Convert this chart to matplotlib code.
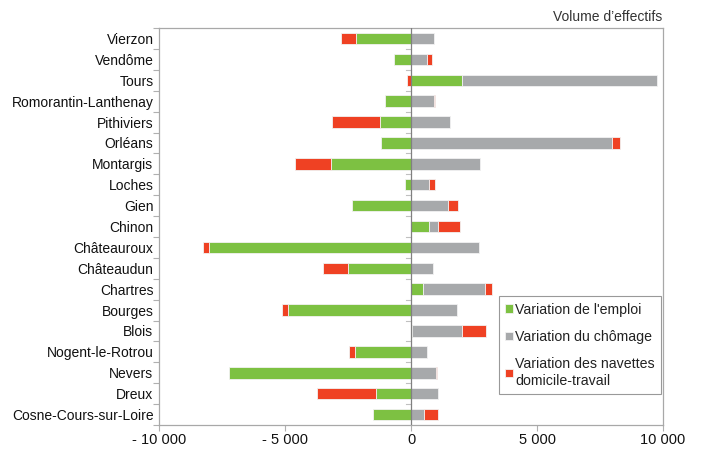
import numpy as np
import matplotlib
matplotlib.use("Agg")
import matplotlib.pyplot as plt
from matplotlib.ticker import FuncFormatter

plt.rcParams['font.family'] = ['Liberation Sans', 'DejaVu Sans']

categories = ["Vierzon", "Vendôme", "Tours", "Romorantin-Lanthenay", "Pithiviers",
              "Orléans", "Montargis", "Loches", "Gien", "Chinon", "Châteauroux",
              "Châteaudun", "Chartres", "Bourges", "Blois", "Nogent-le-Rotrou",
              "Nevers", "Dreux", "Cosne-Cours-sur-Loire"]

emploi = [-2200, -670, 2010, -1030, -1240, -1200, -3170, -240, -2340, 730, -8000,
          -2500, 490, -4880, 40, -2230, -7210, -1370, -1510]
chomage = [900, 650, 7770, 900, 1560, 7960, 2730, 700, 1460, 340, 2690,
           860, 2440, 1830, 1970, 630, 980, 1060, 520]
navettes = [-560, 170, -140, 70, -1900, 350, -1440, 240, 420, 890, -270,
            -990, 290, -250, 960, -220, 40, -2360, 560]

series = [
    ("Variation de l'emploi", emploi, "#7dc142"),
    ("Variation du chômage", chomage, "#a7a9ab"),
    ("Variation des navettes\ndomicile-travail", navettes, "#ef4123"),
]

fig = plt.figure(figsize=(7.02, 4.5), dpi=100)
ax = fig.add_axes([0.2265, 0.0556, 0.718, 0.882])

y = np.arange(len(categories))
pos_left = np.zeros(len(categories))
neg_left = np.zeros(len(categories))
handles = []
for label, vals, color in series:
    v = np.array(vals, dtype=float)
    left = np.where(v >= 0, pos_left, neg_left)
    h = ax.barh(y, v, left=left, height=0.55, color=color, edgecolor="#f2f2f2",
                linewidth=0.6, label=label, zorder=2)
    handles.append(h)
    pos_left = pos_left + np.where(v >= 0, v, 0)
    neg_left = neg_left + np.where(v < 0, v, 0)

ax.set_ylim(len(categories) - 0.5, -0.5)
ax.set_xlim(-10000, 10000)
ax.set_yticks(y)
ax.set_yticklabels(categories, fontsize=10, color="#111111")
ax.set_yticks(np.arange(-0.5, len(categories), 1.0), minor=True)
ax.tick_params(axis="y", which="major", length=0, pad=4)
ax.tick_params(axis="y", which="minor", length=4, color="#b0b0b0", width=0.8)

ax.set_xticks([-10000, -5000, 0, 5000, 10000])
def fmt(x, pos):
    s = "{:,.0f}".format(abs(x)).replace(",", " ")
    return ("- " + s) if x < 0 else s
ax.xaxis.set_major_formatter(FuncFormatter(fmt))
ax.tick_params(axis="x", length=4, color="#b0b0b0", width=0.8, labelsize=10.5,
               labelcolor="#111111", pad=2)

for s in ax.spines.values():
    s.set_color("#a8a8a8")
    s.set_linewidth(0.9)

ax.axvline(0, color="#808080", linewidth=0.9, zorder=3)
# small ticks along the zero axis at category boundaries
for b in np.arange(0.5, len(categories) - 1, 1.0):
    ax.plot([-200, 0], [b, b], color="#c0c0c0", linewidth=0.8, zorder=1)

leg = ax.legend(handles=handles, loc="lower right", bbox_to_anchor=(0.996, 0.078),
                fontsize=10.2, frameon=True, fancybox=False, handlelength=0.55,
                handleheight=0.55, handletextpad=0.15, borderpad=0.45, labelspacing=0.95,
                borderaxespad=0.0)
leg.get_frame().set_edgecolor("#808080")
leg.get_frame().set_linewidth(0.8)
for t in leg.get_texts():
    t.set_color("#222222")

fig.text(0.944, 0.962, "Volume d\u2019effectifs", ha="right", va="center",
         fontsize=10, color="#333333")

fig.savefig("out.png", dpi=100)
